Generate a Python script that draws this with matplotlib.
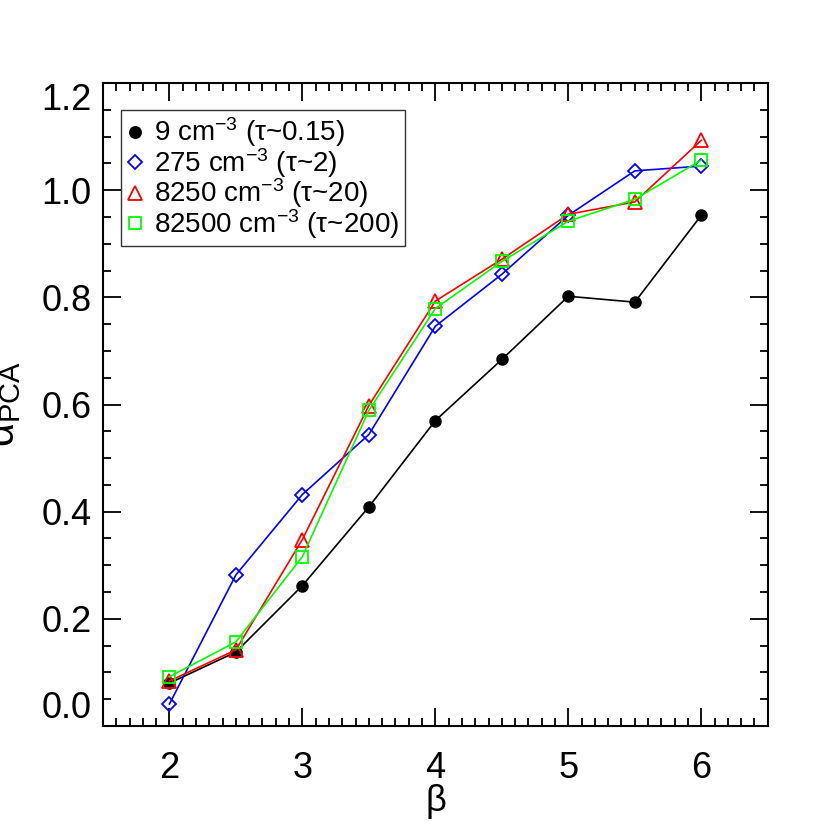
import numpy as np
import matplotlib
matplotlib.use('Agg')
import matplotlib.pyplot as plt
from matplotlib.ticker import MultipleLocator, FixedLocator

plt.rcParams['font.family'] = ['Liberation Sans', 'DejaVu Sans']
plt.rcParams['mathtext.fontset'] = 'custom'
plt.rcParams['mathtext.rm'] = 'Liberation Sans'
plt.rcParams['mathtext.it'] = 'Liberation Sans'

beta = [2, 2.5, 3, 3.5, 4, 4.5, 5, 5.5, 6]
n9 = [0.080, 0.138, 0.262, 0.409, 0.570, 0.684, 0.802, 0.791, 0.953]
n275 = [0.041, 0.282, 0.432, 0.544, 0.746, 0.843, 0.953, 1.036, 1.045]
n8250 = [0.084, 0.142, 0.348, 0.598, 0.793, 0.871, 0.955, 0.978, 1.093]
n82500 = [0.092, 0.157, 0.316, 0.589, 0.779, 0.867, 0.942, 0.983, 1.056]

labels = [r'9 cm$^{-3}$ ($\tau$~0.15)',
          r'275 cm$^{-3}$ ($\tau$~2)',
          r'8250 cm$^{-3}$ ($\tau$~20)',
          r'82500 cm$^{-3}$ ($\tau$~200)']
yticks = [0.0, 0.2, 0.4, 0.6, 0.8, 1.0, 1.2]

fig = plt.figure(figsize=(8.3, 8.3), dpi=100)
ax = fig.add_axes([0.124, 0.1253, 0.801, 0.7747])

lw = 1.2
ax.plot(beta, n9, color='black', lw=lw, marker='o', ms=8, mfc='black', mec='black')
ax.plot(beta, n275, color='blue', lw=lw, marker='D', ms=7, mfc='none', mec='blue', mew=1.3)
ax.plot(beta, n8250, color='red', lw=lw, marker='^', ms=10, mfc='none', mec='red', mew=1.3)
ax.plot(beta, n82500, color='#00ff00', lw=lw, marker='s', ms=9, mfc='none', mec='#00ff00', mew=1.3)

# legend: markers only
handles = []
for c, m, ms, fc in [('black', 'o', 8, 'black'), ('blue', 'D', 7, 'none'),
                     ('red', '^', 10, 'none'), ('#00ff00', 's', 9, 'none')]:
    h, = ax.plot([], [], ls='none', marker=m, ms=ms, mfc=fc, mec=c, mew=1.3)
    handles.append(h)
leg = ax.legend(handles, labels, loc='upper left', bbox_to_anchor=(0.027, 0.958),
                fontsize=20, frameon=True, fancybox=False, handlelength=0.6,
                handletextpad=0.4, labelspacing=-0.12, borderpad=0.2, borderaxespad=0)
leg.get_frame().set_edgecolor('black')
leg.get_frame().set_linewidth(1.0)

ax.set_xlim(1.5, 6.5)
ax.set_ylim(0, 1.2)
ax.xaxis.set_major_locator(MultipleLocator(1))
ax.xaxis.set_minor_locator(MultipleLocator(0.1))
ax.yaxis.set_major_locator(FixedLocator(yticks))
ax.yaxis.set_minor_locator(MultipleLocator(0.05))
ax.yaxis.set_major_formatter(plt.FuncFormatter(lambda v, p: f'{v:.1f}'))

ax.tick_params(which='both', direction='in', top=True, right=True, labelsize=26, width=1.3)
ax.tick_params(which='major', length=13)
ax.tick_params(which='minor', length=6)
ax.tick_params(axis='x', pad=18)
ax.tick_params(axis='y', pad=8)
for s in ax.spines.values():
    s.set_linewidth(1.5)

ax.set_xlabel(r'$\beta$', fontsize=26, labelpad=-3)
fig.text(0.004, 0.513, r'$\alpha_{\rm PCA}$', rotation=90, fontsize=30, ha='center', va='center')

# end labels sit inside the axis range, like the original
fig.canvas.draw()
ylab = ax.yaxis.get_majorticklabels()
ylab[0].set_va('bottom')
ylab[-1].set_va('top')

fig.savefig('out.png', dpi=100)
